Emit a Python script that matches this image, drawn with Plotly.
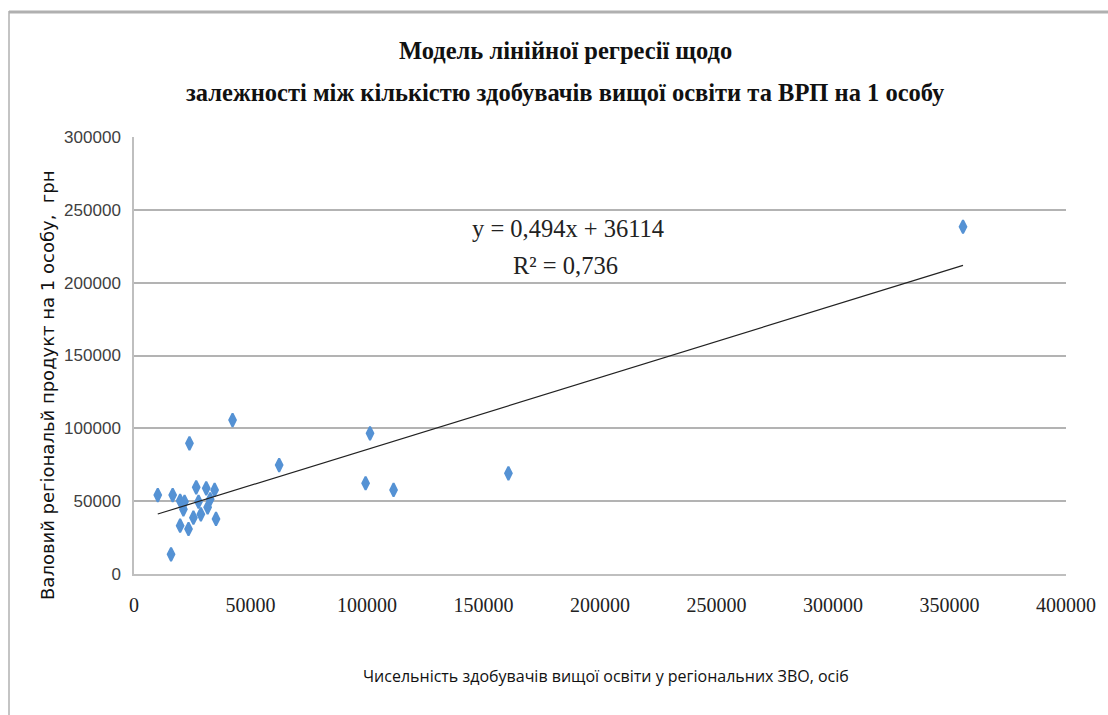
import plotly.graph_objects as go

# ---- data ----
students = [42300, 23800, 62300, 10200, 16600, 26700, 31000, 34600, 19800, 21700,
            27700, 32700, 21200, 31600, 28700, 25500, 35200, 19800, 23400, 15900,
            101300, 99400, 111400, 160700, 355800]
grp_per_capita = [105700, 89700, 74800, 54200, 54200, 59500, 58800, 57700, 50300, 49600,
                  49600, 51300, 44400, 45800, 41000, 38700, 37800, 33200, 30900, 13500,
                  96600, 62300, 57700, 69100, 238400]

slope = 0.494
intercept = 36114
r2 = 0.736

x_ticks = [0, 50000, 100000, 150000, 200000, 250000, 300000, 350000, 400000]
y_ticks = [0, 50000, 100000, 150000, 200000, 250000, 300000]

title_l1 = "Модель лінійної регресії щодо"
title_l2 = "залежності між кількістю здобувачів вищої освіти та ВРП на 1 особу"
x_title = "Чисельність здобувачів вищої освіти у регіональних ЗВО, осіб"
y_title = "Валовий регіональй продукт на 1 особу,  грн"

# ---- layout geometry ----
W, H = 1108, 715
L, R, T, B = 134, 42, 137, 141
PW, PH = W - L - R, H - T - B

SERIF = "Liberation Serif, Times New Roman, serif"


def px(xp):
    return (xp - L) / PW


def py(yp):
    return (H - B - yp) / PH


trend_x = [min(students), max(students)]
trend_y = [slope * v + intercept for v in trend_x]

fig = go.Figure()
fig.add_trace(go.Scatter(
    x=students, y=grp_per_capita, mode="markers",
    marker=dict(symbol="diamond-tall", size=9.5, color="#5592D4",
                line=dict(width=2, color="#5592D4")),
    showlegend=False, hoverinfo="x+y"))
fig.add_trace(go.Scatter(
    x=trend_x, y=trend_y, mode="lines",
    line=dict(color="#222222", width=1.2),
    showlegend=False, hoverinfo="skip"))

fig.update_layout(
    width=W, height=H,
    margin=dict(l=L, r=R, t=T, b=B),
    paper_bgcolor="white", plot_bgcolor="white",
    xaxis=dict(range=[0, 400000], tickvals=x_ticks,
               ticktext=[str(v) for v in x_ticks],
               showgrid=False, zeroline=False,
               showline=True, linecolor="#bfbfbf", linewidth=1.5,
               ticks="outside", ticklen=12, tickcolor="rgba(0,0,0,0)",
               tickfont=dict(family=SERIF, size=20, color="#222222"),
               fixedrange=True),
    yaxis=dict(range=[0, 300000], tickvals=y_ticks,
               ticktext=[str(v) for v in y_ticks],
               showgrid=True, gridcolor="#b3b3b3", gridwidth=1.5,
               zeroline=False,
               showline=True, linecolor="#bfbfbf", linewidth=1.5,
               ticks="outside", ticklen=8, tickcolor="rgba(0,0,0,0)",
               tickfont=dict(family="Liberation Sans", size=17, color="#404040"),
               fixedrange=True),
    shapes=[
        dict(type="line", xref="paper", yref="paper",
             x0=px(9), x1=px(W + 5), y0=py(12), y1=py(12),
             line=dict(color="#b0b0b0", width=3)),
        dict(type="line", xref="paper", yref="paper",
             x0=px(9), x1=px(9), y0=py(11), y1=py(H + 5),
             line=dict(color="#b0b0b0", width=1.5)),
    ],
    annotations=[
        dict(text="<b>" + title_l1 + "</b>", xref="paper", yref="paper",
             x=px(565), y=py(50), showarrow=False, xanchor="center", yanchor="middle",
             font=dict(family=SERIF, size=24.5, color="#111111")),
        dict(text="<b>" + title_l2 + "</b>", xref="paper", yref="paper",
             x=px(565), y=py(92), showarrow=False, xanchor="center", yanchor="middle",
             font=dict(family=SERIF, size=24.5, color="#111111")),
        dict(text=f"y = {str(slope).replace('.', ',')}x + {intercept}",
             xref="paper", yref="paper", x=px(568), y=py(228), showarrow=False,
             xanchor="center", yanchor="middle",
             font=dict(family=SERIF, size=24.5, color="#222222")),
        dict(text=f"R² = {str(r2).replace('.', ',')}",
             xref="paper", yref="paper", x=px(565), y=py(265), showarrow=False,
             xanchor="center", yanchor="middle",
             font=dict(family=SERIF, size=24.5, color="#222222")),
        dict(text=x_title, xref="paper", yref="paper",
             x=px(606), y=py(676), showarrow=False, xanchor="center", yanchor="middle",
             font=dict(family="Open Sans", size=16, color="#111111")),
        dict(text=y_title, xref="paper", yref="paper", textangle=-90,
             x=px(47), y=py(385), showarrow=False, xanchor="center", yanchor="middle",
             font=dict(family="DejaVu Sans", size=18, color="#111111")),
    ],
)

fig.write_html("out.html",
               config={"displayModeBar": False},
               post_script="document.body.style.margin='0px';document.body.style.padding='0px';")
